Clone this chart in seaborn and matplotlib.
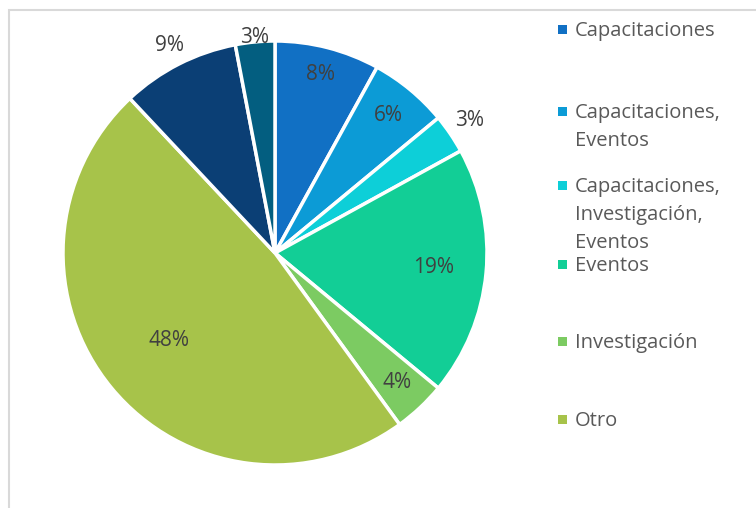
import matplotlib
matplotlib.use("Agg")
import matplotlib.pyplot as plt
import seaborn as sns
import numpy as np
from matplotlib.patches import Rectangle

# Data (clockwise from 12 o'clock)
categories = ["Capacitaciones", "Capacitaciones,\nEventos",
              "Capacitaciones,\nInvestigación,\nEventos", "Eventos",
              "Investigación", "Otro", "Otro 2", "Otro 3"]
shares = [8, 6, 3, 19, 4, 48, 9, 3]
colors = ["#1170C4", "#0C9BD6", "#0DCFD8", "#12CE96",
          "#7CCB62", "#A7C34A", "#0B3F75", "#035E80"]
# only the first six entries fit in the legend
legend_count = 6

# how far from the centre each percent label sits (fraction of radius)
label_radius = [0.87, 0.84, 1.11, 0.75, 0.84, 0.65, 1.10, 1.02]

sns.set_theme(style="white")
plt.rcParams["font.family"] = ["Open Sans", "DejaVu Sans"]
text_color = "#595959"

W, H = 756, 508
fig = plt.figure(figsize=(W / 100, H / 100), dpi=100)
fig.patch.set_facecolor("white")

# chart-area border (only left and top are visible in the crop)
fig.add_artist(Rectangle((8.5 / W, -0.1), 1.2, 1 - 10.5 / H + 0.1,
                         transform=fig.transFigure, fill=False,
                         edgecolor="#D9D9D9", linewidth=1.5))

cx, cy, r = 275, 253, 212
ax = fig.add_axes([(cx - r) / W, (H - cy - r) / H, 2 * r / W, 2 * r / H])
palette = sns.color_palette(colors)
wedges, _ = ax.pie(shares, colors=palette, startangle=90, counterclock=False,
                   radius=1, wedgeprops=dict(edgecolor="white", linewidth=2.5))
ax.set_xlim(-1, 1)
ax.set_ylim(-1, 1)
ax.set_aspect("equal")
ax.axis("off")

for w, v, lr in zip(wedges, shares, label_radius):
    ang = np.deg2rad((w.theta1 + w.theta2) / 2)
    ax.text(lr * np.cos(ang), lr * np.sin(ang), f"{v}%", ha="center",
            va="center", fontsize=15, color="#404040")

# legend drawn entry by entry, like the Excel layout
legend_y = [30, 112, 186, 265, 342, 420]
for i in range(legend_count):
    y = legend_y[i]
    fig.add_artist(Rectangle((558 / W, 1 - (y + 4) / H), 9 / W, 9 / H,
                             transform=fig.transFigure, facecolor=palette[i],
                             edgecolor="none"))
    fig.text(575 / W, 1 - (y - 9) / H, categories[i], ha="left", va="top",
             fontsize=14.5, color=text_color, linespacing=1.55)

fig.savefig("out.png", dpi=100, facecolor="white")
